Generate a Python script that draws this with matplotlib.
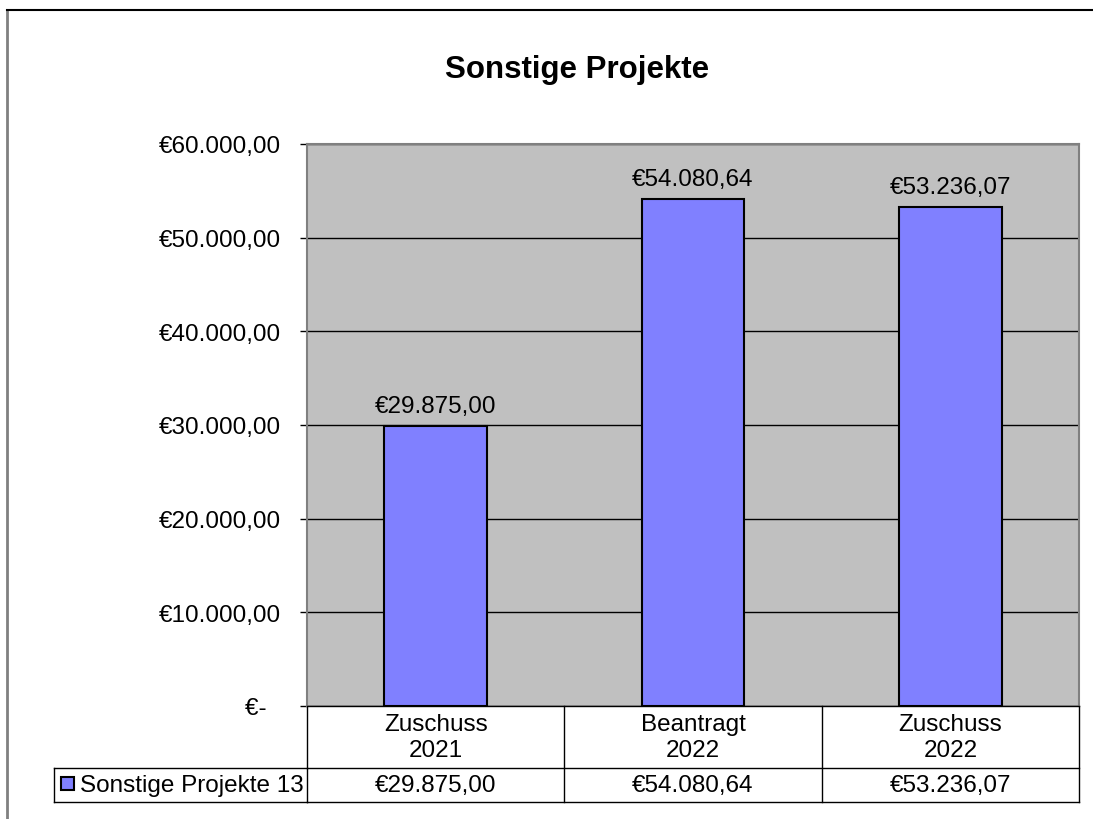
import matplotlib
matplotlib.use("Agg")
import matplotlib.pyplot as plt
from matplotlib.lines import Line2D
from matplotlib.patches import Rectangle

plt.rcParams['font.family'] = ['Liberation Sans', 'DejaVu Sans']

# daten
title = "Sonstige Projekte"
series_name = "Sonstige Projekte 13"
categories = ["Zuschuss\n2021", "Beantragt\n2022", "Zuschuss\n2022"]
values = [29875.00, 54080.64, 53236.07]
y_ticks = [0, 10000, 20000, 30000, 40000, 50000, 60000]

BAR = "#8080FF"
BG = "#C0C0C0"
W, H = 1093, 820
FS = 17.5


def euro(v):
  if v == 0:
    return "€-  "
  s = f"{v:,.2f}".replace(",", "X").replace(".", ",").replace("X", ".")
  return "€" + s


def fx(x):
  return x / W


def fy(y):
  return 1 - y / H


fig = plt.figure(figsize=(W / 100, H / 100), dpi=100)

# rahmen (rechts/unten abgeschnitten)
fig.add_artist(Line2D([fx(7), fx(7)], [fy(11), fy(830)], color="#808080", lw=2))
fig.add_artist(Line2D([fx(7), fx(1100)], [fy(11), fy(11)], color="black", lw=1.5))

ax = fig.add_axes([fx(307), fy(707), fx(1079) - fx(307), fy(145) - fy(707)])
ax.set_facecolor(BG)

x = list(range(len(categories)))
bars = ax.bar(x, values, width=0.4, color=BAR, edgecolor="black", linewidth=1.5, zorder=3)
for b, v in zip(bars, values):
  ax.annotate(euro(v), (b.get_x() + b.get_width() / 2, v), xytext=(0, 9),
              textcoords="offset pixels", ha="center", va="bottom", fontsize=FS)

ax.set_xlim(-0.5, len(categories) - 0.5)
ax.set_ylim(0, 60000)
ax.set_yticks(y_ticks)
ax.set_yticklabels([euro(v) for v in y_ticks])
ax.yaxis.grid(True, color="black", lw=1, zorder=1)
ax.set_axisbelow(True)
ax.tick_params(axis="y", length=5, width=1, pad=14, labelsize=FS, color="black")
ax.set_xticks([])
for s in ["left", "top", "right"]:
  ax.spines[s].set_color("#808080")
  ax.spines[s].set_linewidth(1.5)
ax.spines["bottom"].set_color("black")
ax.spines["bottom"].set_linewidth(1)

fig.text(fx(577), fy(70), title, ha="center", va="center", fontsize=22.5, fontweight="bold")

# datentabelle
tr = ax.get_xaxis_transform()
ph = 707 - 145
r1 = -(769 - 707) / ph
r2 = -(803 - 707) / ph
for i in range(len(categories) + 1):
  ax.add_line(Line2D([i - 0.5, i - 0.5], [0, r2], transform=tr, color="black", lw=1, clip_on=False))
ax.add_line(Line2D([-0.5, len(categories) - 0.5], [r1, r1], transform=tr, color="black", lw=1, clip_on=False))
ax.add_line(Line2D([-0.5, len(categories) - 0.5], [r2, r2], transform=tr, color="black", lw=1, clip_on=False))
for i, (c, v) in enumerate(zip(categories, values)):
  ax.text(i, r1 / 2, c, transform=tr, ha="center", va="center", fontsize=FS, linespacing=1.2)
  ax.text(i, (r1 + r2) / 2, euro(v), transform=tr, ha="center", va="center", fontsize=FS)

# legendenzelle
fig.add_artist(Line2D([fx(54), fx(307)], [fy(769), fy(769)], color="black", lw=1))
fig.add_artist(Line2D([fx(54), fx(307)], [fy(803), fy(803)], color="black", lw=1))
fig.add_artist(Line2D([fx(54), fx(54)], [fy(769), fy(803)], color="black", lw=1))
fig.add_artist(Rectangle((fx(61), fy(791)), fx(13), fy(778) - fy(791), facecolor=BAR,
                         edgecolor="black", lw=1.5, transform=fig.transFigure))
fig.text(fx(80), fy(786), series_name, ha="left", va="center", fontsize=FS)

fig.savefig("out.png", dpi=100)
